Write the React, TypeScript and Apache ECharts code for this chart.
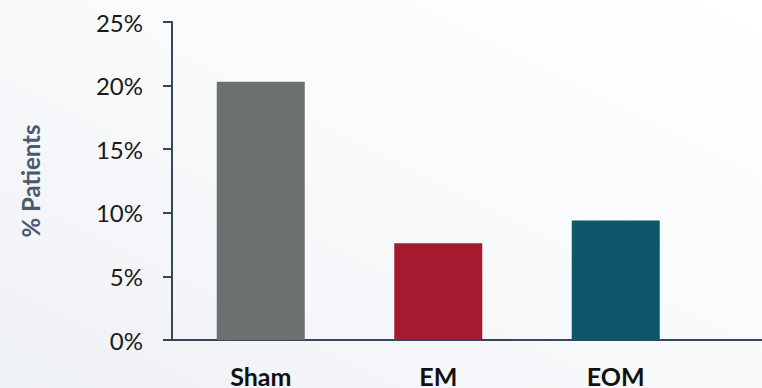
import React, { useEffect, useRef } from "react";
import * as echarts from "echarts";

const categories = ["Sham", "EM", "EOM"];
const values = [20.3, 7.6, 9.4];
const barColors = ["#6b7170", "#a51a2f", "#0d566b"];
const yTicks = [0, 5, 10, 15, 20, 25];

export default function App() {
  const ref = useRef<HTMLDivElement>(null);
  useEffect(() => {
    if (!ref.current) return;
    const chart = echarts.init(ref.current, null, { renderer: "svg" });
    const axisColor = "#37465a";
    chart.setOption({
      animation: false,
      backgroundColor: new echarts.graphic.LinearGradient(0, 1, 1, 0, [
        { offset: 0, color: "#eef1f5" },
        { offset: 0.6, color: "#fafbfc" },
        { offset: 1, color: "#ffffff" },
      ]),
      grid: { left: 172, top: 22, width: 532.5, bottom: 44 },
      xAxis: {
        type: "category",
        data: categories,
        axisLine: { lineStyle: { color: axisColor, width: 2 } },
        axisTick: { show: false },
        axisLabel: {
          color: "#111111",
          fontFamily: "Lato",
          fontWeight: "bold",
          fontSize: 25,
          margin: 23,
        },
      },
      yAxis: {
        type: "value",
        min: 0,
        max: 25,
        interval: 5,
        name: "% Patients",
        nameLocation: "middle",
        nameRotate: 90,
        nameGap: 130,
        nameTextStyle: {
          color: "#4a5a6e",
          fontFamily: "Lato",
          fontWeight: "bold",
          fontSize: 24,
        },
        splitLine: { show: false },
        axisLine: { show: true, lineStyle: { color: axisColor, width: 2 } },
        axisTick: { show: true, length: 9, lineStyle: { color: axisColor, width: 2 } },
        axisLabel: {
          color: "#1a1a1a",
          fontFamily: "Lato",
          fontSize: 24,
          margin: 29,
          formatter: (v: number) => (yTicks.includes(v) ? v + "%" : ""),
        },
      },
      series: [
        {
          type: "bar",
          barWidth: 88,
          data: values.map((v, i) => ({ value: v, itemStyle: { color: barColors[i] } })),
        },
      ],
    });
    const y0 = chart.convertToPixel({ yAxisIndex: 0 }, 0) as number;
    const xEnd = 172 + 532.5;
    chart.setOption({
      graphic: [
        {
          type: "line",
          shape: { x1: xEnd - 1, y1: y0, x2: 762, y2: y0 },
          style: { stroke: axisColor, lineWidth: 2 },
        },
      ],
    });
    return () => chart.dispose();
  }, []);
  return (
    <div
      ref={ref}
      style={{ position: "fixed", left: 0, top: 0, width: 762, height: 388 }}
    />
  );
}
